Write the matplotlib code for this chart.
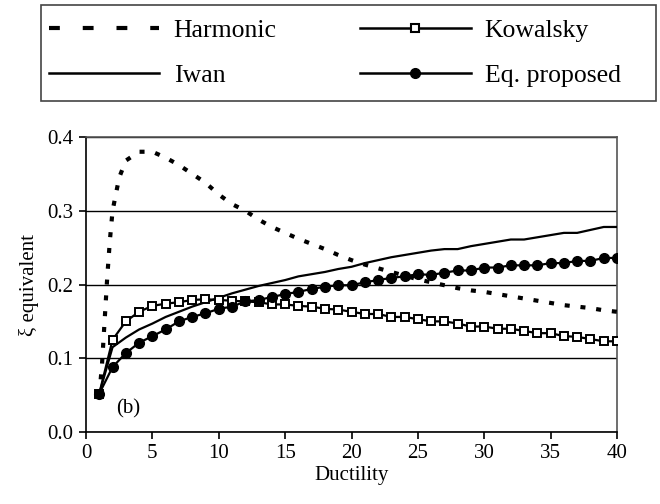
import numpy as np
import matplotlib.pyplot as plt
from matplotlib.lines import Line2D
from matplotlib.patches import Rectangle

plt.rcParams['font.family'] = ['Liberation Serif', 'DejaVu Serif']

# --- data ---
mu = list(range(1, 41))

kowalsky = [0.052, 0.125, 0.150, 0.163, 0.171, 0.174, 0.176, 0.179, 0.180, 0.179,
            0.178, 0.177, 0.176, 0.173, 0.173, 0.171, 0.170, 0.167, 0.166, 0.163,
            0.160, 0.160, 0.156, 0.156, 0.153, 0.150, 0.150, 0.147, 0.143, 0.143,
            0.140, 0.140, 0.137, 0.134, 0.134, 0.130, 0.129, 0.126, 0.123, 0.123]

eq_proposed = [0.052, 0.088, 0.107, 0.121, 0.130, 0.139, 0.150, 0.156, 0.161, 0.167,
               0.170, 0.177, 0.179, 0.183, 0.187, 0.190, 0.194, 0.197, 0.199, 0.199,
               0.203, 0.206, 0.209, 0.211, 0.214, 0.213, 0.216, 0.219, 0.219, 0.223,
               0.223, 0.226, 0.226, 0.226, 0.229, 0.229, 0.232, 0.232, 0.236, 0.236]

iwan = [0.052, 0.115, 0.128, 0.139, 0.147, 0.156, 0.163, 0.170, 0.176, 0.182,
        0.188, 0.193, 0.198, 0.202, 0.206, 0.211, 0.214, 0.217, 0.221, 0.224,
        0.229, 0.233, 0.237, 0.240, 0.243, 0.246, 0.248, 0.248, 0.252, 0.255,
        0.258, 0.261, 0.261, 0.264, 0.267, 0.270, 0.270, 0.274, 0.278, 0.278]

mu_harm = [1, 1.2, 1.4, 1.6, 1.8, 2, 2.5, 3, 4, 5, 6, 7, 8, 9, 10, 11, 12, 13, 14, 15,
           16, 17, 18, 19, 20, 21, 22, 23, 24, 25, 26, 27, 28, 29, 30, 31, 32, 33,
           34, 35, 36, 37, 38, 39, 40]
harmonic = [0.050, 0.090, 0.150, 0.210, 0.260, 0.300, 0.345, 0.368, 0.380, 0.380,
            0.372, 0.362, 0.350, 0.338, 0.322, 0.309, 0.300, 0.288, 0.278, 0.270,
            0.262, 0.255, 0.248, 0.240, 0.233, 0.227, 0.222, 0.217, 0.212, 0.207,
            0.203, 0.199, 0.195, 0.192, 0.190, 0.187, 0.184, 0.181, 0.178, 0.175,
            0.172, 0.170, 0.168, 0.165, 0.163]

fig = plt.figure(figsize=(6.6, 5.04), dpi=100)
ax = fig.add_axes([86/660, 1 - 432/504, 531/660, 295/504])

ax.plot(mu, iwan, color='black', lw=1.6, zorder=3)
ax.plot(mu, kowalsky, color='black', lw=1.6, marker='s', ms=5.5,
        mfc='white', mec='black', mew=1.4, zorder=4)
ax.plot(mu, eq_proposed, color='black', lw=1.6, marker='o', ms=7,
        mfc='black', mec='black', zorder=4)
ax.plot(mu_harm, harmonic, color='black', lw=3.0, linestyle=(0, (1.2, 2.6)),
        zorder=5)

ax.text(3.2, 0.031, '(b)', fontsize=15, ha='center', va='center')

ax.set_xlim(0, 40)
ax.set_ylim(0, 0.4)
ax.set_xticks(range(0, 41, 5))
ax.set_yticks([0.0, 0.1, 0.2, 0.3, 0.4])
ax.set_yticklabels(['0.0', '0.1', '0.2', '0.3', '0.4'])
ax.yaxis.grid(True, color='black', lw=1.0)
ax.set_axisbelow(True)
ax.tick_params(direction='out', length=5, width=1.2, labelsize=15, pad=4)
for s in ax.spines.values():
    s.set_color('#555555')
    s.set_linewidth(1.2)
ax.spines['left'].set_color('black')
ax.spines['bottom'].set_color('black')
ax.set_xlabel('Ductility', fontsize=15, labelpad=2)
ax.set_ylabel('ξ equivalent', fontsize=15, labelpad=6)

# legend box across the top
fig.patches.append(Rectangle((41/660, 1 - 101/504), 615/660, 96/504,
                             transform=fig.transFigure, fill=False,
                             edgecolor='#444444', lw=1.2))
handles = [
    Line2D([], [], color='black', lw=3.0, linestyle=(0, (2.6, 5.5))),
    Line2D([], [], color='black', lw=1.8),
    Line2D([], [], color='black', lw=1.8, marker='s', ms=6, mfc='white', mec='black', mew=1.5),
    Line2D([], [], color='black', lw=1.8, marker='o', ms=7, mfc='black'),
]
labels = ['Harmonic', 'Iwan', 'Kowalsky', 'Eq. proposed']
fig.legend(handles, labels, ncol=2, loc='center left',
           bbox_to_anchor=(49/660, 1 - 53/504),
           handlelength=4.3, handletextpad=0.55,
           fontsize=18.5, frameon=False, borderaxespad=0, borderpad=0,
           labelspacing=0.85, columnspacing=3.25)

fig.savefig('out.png', dpi=100)
